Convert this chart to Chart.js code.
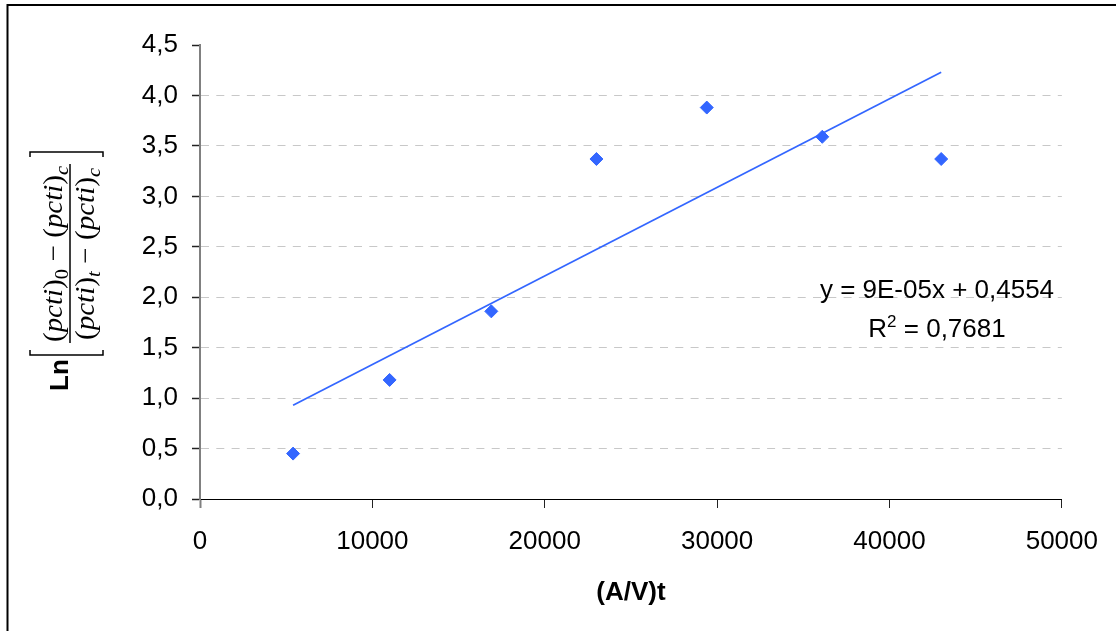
<!DOCTYPE html>
<html>
<head>
<meta charset="utf-8">
<title>Ln ratio vs (A/V)t</title>
<script src="https://cdn.jsdelivr.net/npm/chart.js@4.4.1/dist/chart.umd.min.js"></script>
<style>
  html, body { margin: 0; padding: 0; background: #fff; }
  #chart { display: block; }
</style>
</head>
<body>
<canvas id="chart" width="1116" height="631"></canvas>
<script>
// Measured points: (A/V)t against the log ratio
const xValues = [5400, 11000, 16900, 23000, 29400, 36100, 43000];
const yValues = [0.45, 1.18, 1.86, 3.37, 3.88, 3.59, 3.37];

// Axis ticks
const xTicks = [0, 10000, 20000, 30000, 40000, 50000];
const yTicks = [0, 0.5, 1.0, 1.5, 2.0, 2.5, 3.0, 3.5, 4.0, 4.5];

// Linear trend (least squares) and its fit quality
const trendSlope = 8.78e-5;
const trendIntercept = 0.4554;
const trendR2 = 0.7681;

const SANS = '"Liberation Sans", Arial, sans-serif';
const SERIF = '"Liberation Serif", "Times New Roman", serif';
const BLUE = '#3366FF';

const decimalComma = (v, d) => v.toFixed(d).replace('.', ',');

function sciLabel(v) {
  const [m, e] = v.toExponential(0).split('e');
  const n = parseInt(e, 10);
  return m + 'E' + (n < 0 ? '-' : '+') + String(Math.abs(n)).padStart(2, '0');
}

const points = xValues.map((x, i) => ({ x, y: yValues[i] }));
const trendX = [Math.min(...xValues), Math.max(...xValues)];
const trendPoints = trendX.map(x => ({ x, y: trendSlope * x + trendIntercept }));

// Draws text runs along a baseline; each run may be shifted (sub/superscript)
function drawRuns(ctx, runs, startX, baseline) {
  let x = startX;
  for (const r of runs) {
    if (r.gap) { x += r.gap; continue; }
    ctx.font = r.font;
    ctx.fillText(r.t, x, baseline + (r.dy || 0));
    x += ctx.measureText(r.t).width;
  }
  return x;
}
function runsWidth(ctx, runs) {
  let w = 0;
  for (const r of runs) {
    if (r.gap) { w += r.gap; continue; }
    ctx.font = r.font;
    w += ctx.measureText(r.t).width;
  }
  return w;
}

// One row of the rotated fraction, centred on (cx, cy) with baseline at x = bx
function fractionRow(ctx, subFirst, subSecond, bx, cy, len) {
  const up = '27px ' + SERIF;
  const it = 'italic 27px ' + SERIF;
  const subUp = '19px ' + SERIF;
  const subIt = 'italic 19px ' + SERIF;
  const runs = [
    { t: '(', font: up }, { t: 'pcti', font: it }, { t: ')', font: up },
    { t: subFirst.t, font: subFirst.italic ? subIt : subUp, dy: 6 },
    { gap: 7 }, { t: '\u2212', font: up }, { gap: 7 },
    { t: '(', font: up }, { t: 'pcti', font: it }, { t: ')', font: up },
    { t: subSecond.t, font: subSecond.italic ? subIt : subUp, dy: 6 }
  ];
  const w = runsWidth(ctx, runs);
  ctx.save();
  ctx.translate(bx, cy);
  ctx.rotate(-Math.PI / 2);
  ctx.scale(len / w, 1);
  ctx.textAlign = 'left';
  ctx.textBaseline = 'alphabetic';
  drawRuns(ctx, runs, -w / 2, 0);
  ctx.restore();
}

const decorations = {
  id: 'decorations',
  afterDraw(chart) {
    const ctx = chart.ctx;
    ctx.save();
    ctx.fillStyle = '#000';
    ctx.strokeStyle = '#000';

    // outer frame
    ctx.lineWidth = 2;
    ctx.beginPath();
    ctx.moveTo(7.5, 631);
    ctx.lineTo(7.5, 5);
    ctx.lineTo(1116, 5);
    ctx.stroke();

    // y-axis label: Ln [ ((pcti)0 - (pcti)c) / ((pcti)t - (pcti)c) ]
    ctx.save();
    ctx.translate(68, 375);
    ctx.rotate(-Math.PI / 2);
    ctx.font = 'bold 26px ' + SANS;
    ctx.textAlign = 'center';
    ctx.textBaseline = 'alphabetic';
    ctx.fillText('Ln', 0, 0);
    ctx.restore();

    ctx.lineWidth = 1.5;
    ctx.beginPath();
    // lower bracket
    ctx.moveTo(30, 350); ctx.lineTo(30, 355); ctx.lineTo(103, 355); ctx.lineTo(103, 350);
    // upper bracket
    ctx.moveTo(30, 157); ctx.lineTo(30, 152); ctx.lineTo(103, 152); ctx.lineTo(103, 157);
    // fraction bar
    ctx.moveTo(70, 164); ctx.lineTo(70, 343);
    ctx.stroke();

    fractionRow(ctx, { t: '0', italic: false }, { t: 'c', italic: true }, 62, 254, 176);
    fractionRow(ctx, { t: 't', italic: true }, { t: 'c', italic: true }, 94, 254, 172);

    // trendline equation and R²
    const cx = 937;
    ctx.textBaseline = 'alphabetic';
    ctx.textAlign = 'center';
    ctx.font = '26px ' + SANS;
    const eq = 'y = ' + sciLabel(trendSlope) + 'x + ' + decimalComma(trendIntercept, 4);
    ctx.fillText(eq, cx, 298);

    ctx.textAlign = 'left';
    const r2Runs = [
      { t: 'R', font: '26px ' + SANS },
      { t: '2', font: '17px ' + SANS, dy: -10 },
      { t: ' = ' + decimalComma(trendR2, 4), font: '26px ' + SANS }
    ];
    const rw = runsWidth(ctx, r2Runs);
    drawRuns(ctx, r2Runs, cx - rw / 2, 337);

    ctx.restore();
  }
};

Chart.defaults.font.family = SANS;
Chart.defaults.color = '#000';

new Chart(document.getElementById('chart'), {
  type: 'scatter',
  data: {
    datasets: [
      {
        label: 'trend',
        data: trendPoints,
        showLine: true,
        borderColor: BLUE,
        borderWidth: 1.75,
        pointRadius: 0,
        fill: false,
        order: 2
      },
      {
        label: 'measured',
        data: points,
        pointStyle: 'rectRot',
        pointRadius: 6.5,
        backgroundColor: BLUE,
        borderColor: BLUE,
        borderWidth: 1,
        order: 1
      }
    ]
  },
  options: {
    responsive: false,
    animation: false,
    devicePixelRatio: 1,
    layout: { padding: { left: 0, right: 54, top: 45, bottom: 0 } },
    plugins: { legend: { display: false }, tooltip: { enabled: false } },
    scales: {
      x: {
        type: 'linear',
        min: xTicks[0],
        max: xTicks[xTicks.length - 1],
        afterBuildTicks: s => { s.ticks = xTicks.map(v => ({ value: v })); },
        afterFit: s => { s.height = 132; },
        ticks: {
          color: '#000',
          font: { size: 26 },
          padding: 18,
          maxRotation: 0,
          autoSkip: false,
          callback: v => String(v)
        },
        grid: {
          drawOnChartArea: false,
          drawTicks: true,
          tickLength: 9,
          tickColor: c => (c.tick && c.tick.value === 0 ? '#808080' : '#222'),
          tickWidth: c => (c.tick && c.tick.value === 0 ? 2 : 1)
        },
        border: { color: '#000', width: 1 },
        title: {
          display: true,
          text: '(A/V)t',
          color: '#000',
          font: { size: 26, weight: 'bold' },
          padding: { top: 0, bottom: 23 }
        }
      },
      y: {
        type: 'linear',
        min: yTicks[0],
        max: yTicks[yTicks.length - 1],
        afterBuildTicks: s => { s.ticks = yTicks.map(v => ({ value: v })); },
        afterFit: s => { s.width = 200; },
        ticks: {
          color: '#000',
          font: { size: 26 },
          padding: 14,
          autoSkip: false,
          callback: v => decimalComma(v, 1)
        },
        grid: {
          color: c => (c.tick && (c.tick.value === yTicks[0] || c.tick.value === yTicks[yTicks.length - 1]) ? 'rgba(0,0,0,0)' : '#c8c8c8'),
          lineWidth: 1,
          tickLength: 8,
          tickColor: '#222',
          tickWidth: 1.5,
          tickBorderDash: []
        },
        border: { color: '#808080', width: 2, dash: [8, 7.3], dashOffset: 0 }
      }
    }
  },
  plugins: [decorations]
});
</script>
</body>
</html>
